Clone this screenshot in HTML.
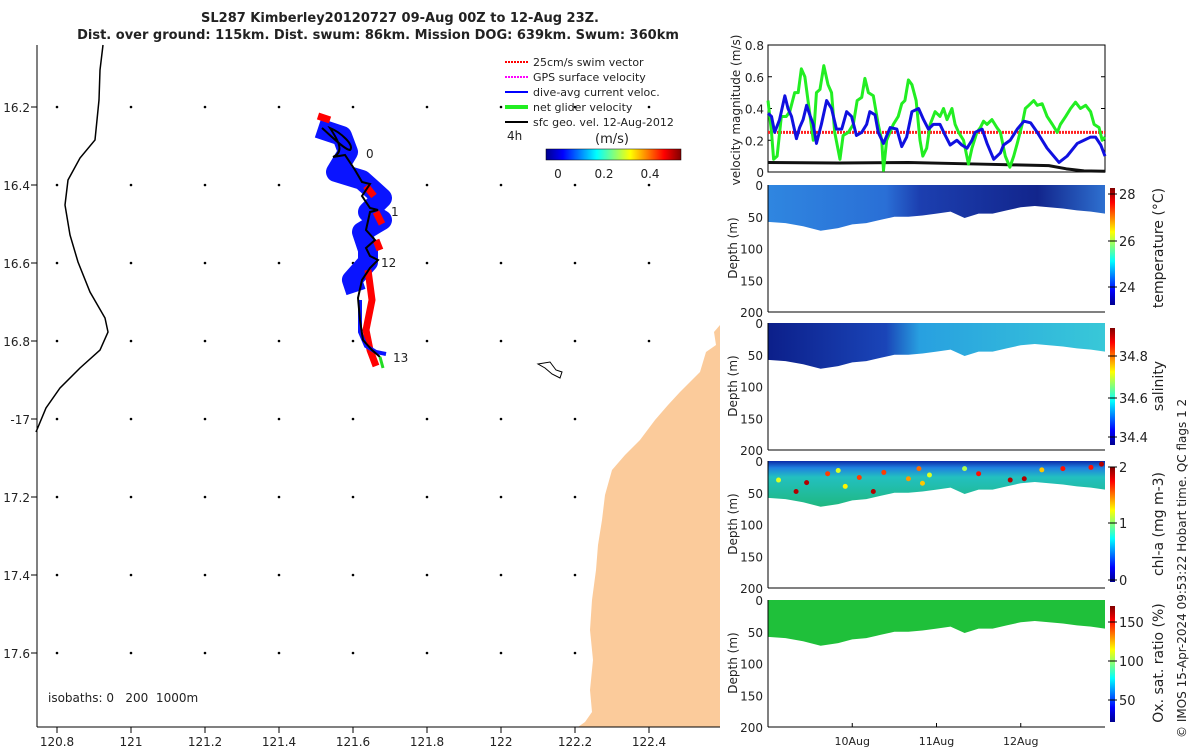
<!DOCTYPE html>
<html><head><meta charset="utf-8"><style>
body{margin:0;background:#fff;}
svg{display:block;font-family:"DejaVu Sans","Liberation Sans",sans-serif;}
text{fill:#222;}
</style></head><body>
<svg id="c" width="1200" height="750" viewBox="0 0 1200 750" xmlns="http://www.w3.org/2000/svg" font-size="12">
<defs>
<linearGradient id="jetH" x1="0" x2="1" y1="0" y2="0">
<stop offset="0" stop-color="#00008f"/><stop offset="0.125" stop-color="#0000ff"/><stop offset="0.375" stop-color="#00ffff"/><stop offset="0.625" stop-color="#ffff00"/><stop offset="0.875" stop-color="#ff0000"/><stop offset="1" stop-color="#800000"/></linearGradient>
<linearGradient id="jetV" x1="0" x2="0" y1="1" y2="0">
<stop offset="0" stop-color="#00008f"/><stop offset="0.125" stop-color="#0000ff"/><stop offset="0.375" stop-color="#00ffff"/><stop offset="0.625" stop-color="#ffff00"/><stop offset="0.875" stop-color="#ff0000"/><stop offset="1" stop-color="#800000"/></linearGradient>
<linearGradient id="tempG" x1="0" x2="1"><stop offset="0" stop-color="#2f86e0"/><stop offset="0.35" stop-color="#2a6fd6"/><stop offset="0.45" stop-color="#1c3fb0"/><stop offset="0.8" stop-color="#12258c"/><stop offset="1" stop-color="#2e70d0"/></linearGradient>
<linearGradient id="salG" x1="0" x2="1"><stop offset="0" stop-color="#0c1f8a"/><stop offset="0.35" stop-color="#1a45b8"/><stop offset="0.45" stop-color="#28a0e0"/><stop offset="1" stop-color="#38c8d8"/></linearGradient>
<linearGradient id="chlG" x1="0" x2="0" y1="0" y2="1"><stop offset="0" stop-color="#0a2aa8"/><stop offset="0.15" stop-color="#1f80e0"/><stop offset="0.35" stop-color="#22c0c0"/><stop offset="1" stop-color="#20b880"/></linearGradient>
</defs>

<g>
<text x="400" y="22" text-anchor="middle" font-weight="bold" style="font-size:13px">SL287 Kimberley20120727 09-Aug 00Z to 12-Aug 23Z.</text>
<text x="378" y="39" text-anchor="middle" font-weight="bold" style="font-size:13px">Dist. over ground: 115km. Dist. swum: 86km. Mission DOG: 639km. Swum: 360km</text>
</g>

<g id="map">
<path fill="#fbcb9b" d="M720,325 L714,332 L716,345 L706,352 L700,372 L690,382 L680,392 L668,405 L655,420 L640,440 L625,455 L612,470 L605,495 L602,520 L598,545 L596,570 L592,600 L590,630 L593,660 L590,690 L592,712 L585,722 L578,727 L720,727 Z"/>
<path fill="none" stroke="#000" stroke-width="1" d="M538,364 L550,362 L556,370 L562,372 L560,378 L552,374 L545,368 Z"/>
<path fill="none" stroke="#000" stroke-width="1.5" d="M103,45 L100,70 L99,100 L95,140 L80,158 L68,180 L65,205 L70,235 L78,262 L90,292 L105,318 L108,332 L100,350 L80,368 L60,388 L46,408 L36,432"/>
<g id="grid-dots"></g>
<g id="track">
<path fill="none" stroke="#0a14ff" stroke-width="20" stroke-linejoin="round" d="M318,128 L342,136 L348,152 L336,172 L362,180 L382,198 L368,212 L382,220 L362,232 L368,250 L368,262 L352,280 L356,292"/>
<path fill="none" stroke="#ff0000" stroke-width="7" stroke-linejoin="round" d="M318,116 L330,120 M366,186 L374,196 M376,212 L382,224 M376,240 L380,250 M368,270 L372,300 L366,330 L370,350 L376,366"/>
<path fill="none" stroke="#0a14ff" stroke-width="4" d="M360,300 L360,332 L366,346 L376,352 L386,354"/>
<path fill="none" stroke="#000" stroke-width="2" d="M322,128 C330,135 345,150 350,150 C355,145 340,132 330,128 C338,140 345,152 333,157 L345,155 L355,170 L362,182 L370,184 L362,196 L370,208 L378,210 L370,212 L366,230 L375,240 L366,248 L370,256 L378,260 L370,268 L362,280 L358,298 L360,320 L363,340 L372,350 L380,357"/>
<line x1="380" y1="357" x2="383" y2="368" stroke="#22dd22" stroke-width="3"/>
</g>
<text x="366" y="158">0</text>
<text x="391" y="216">1</text>
<text x="381" y="267">12</text>
<text x="393" y="362">13</text>
<text x="507" y="140">4h</text>
<g>
<line x1="505" y1="62" x2="528" y2="62" stroke="#ff0000" stroke-width="2" stroke-dasharray="2 1"/><text x="533" y="66" style="font-size:11px">25cm/s swim vector</text>
<line x1="505" y1="77" x2="528" y2="77" stroke="#ff00ff" stroke-width="2" stroke-dasharray="2 1"/><text x="533" y="81" style="font-size:11px">GPS surface velocity</text>
<line x1="505" y1="92" x2="528" y2="92" stroke="#0000ff" stroke-width="2"/><text x="533" y="96" style="font-size:11px">dive-avg current veloc.</text>
<line x1="505" y1="107" x2="528" y2="107" stroke="#22ee22" stroke-width="4"/><text x="533" y="111" style="font-size:11px">net glider velocity</text>
<line x1="505" y1="122" x2="528" y2="122" stroke="#000" stroke-width="2"/><text x="533" y="126" style="font-size:11px">sfc geo. vel. 12-Aug-2012</text>
</g>
<g>
<text x="612" y="143" text-anchor="middle" style="font-size:13px">(m/s)</text>
<rect x="546" y="149" width="135" height="11" fill="url(#jetH)" stroke="#000" stroke-width="0.5"/>
<text x="558" y="178" text-anchor="middle">0</text><text x="604" y="178" text-anchor="middle">0.2</text><text x="650" y="178" text-anchor="middle">0.4</text>
</g>
<text x="48" y="702" xml:space="preserve">isobaths: 0   200  1000m</text>
<line x1="37" y1="45" x2="37" y2="727" stroke="#000"/>
<line x1="37" y1="727" x2="720" y2="727" stroke="#000"/>
<g id="mapTicks"></g>
</g>

<g id="velPanel"></g>
<g id="sections"></g>
<text transform="translate(1186,738) rotate(-90)">© IMOS 15-Apr-2024 09:53:22 Hobart time. QC flags 1  2</text>
</svg>
<script>
const NS='http://www.w3.org/2000/svg';
const lonTicks=[120.8,121,121.2,121.4,121.6,121.8,122,122.2,122.4];
const latTicks=[16.2,16.4,16.6,16.8,17,17.2,17.4,17.6];
const latLabels=['16.2','16.4','16.6','16.8','-17','17.2','17.4','17.6'];
const lonLabels=['120.8','121','121.2','121.4','121.6','121.8','122','122.2','122.4'];
const hoursGreen=[0,1,1.6,2.6,3.8,5.2,6.2,7.6,8.6,9.5,10.5,11.4,12.9,13.8,14.8,15.9,17.1,18.1,19,20.5,21.4,22.9,24.3,25.4,26.7,27.6,28.6,30,31.4,32.4,32.9,33.8,35.7,37.1,38.1,39,40,41,42.2,43.3,44.1,45.2,46.2,47.6,49,50,51,52.4,53.3,54.3,55.7,57.1,58.1,59.5,60.5,61.4,62.4,63.8,65.2,66.2,67.6,68.9,70,71,72.4,73.3,74.3,75.7,76.7,78.1,79.5,81,82.4,83.3,84.8,86.2,87.6,89,90.5,91.9,92.9,94.3,95.2,96];
const netVel=[0.45,0.25,0.08,0.1,0.35,0.35,0.38,0.5,0.5,0.65,0.6,0.45,0.2,0.5,0.52,0.67,0.55,0.5,0.25,0.08,0.23,0.25,0.3,0.45,0.47,0.59,0.5,0.48,0.3,0.2,0.01,0.2,0.3,0.35,0.43,0.45,0.58,0.55,0.45,0.2,0.1,0.15,0.3,0.38,0.35,0.4,0.33,0.4,0.3,0.25,0.2,0.05,0.15,0.25,0.28,0.32,0.3,0.33,0.28,0.25,0.1,0.03,0.1,0.18,0.3,0.4,0.42,0.45,0.42,0.43,0.35,0.3,0.25,0.3,0.35,0.4,0.44,0.4,0.42,0.38,0.3,0.28,0.2,0.22];
const hoursBlue=[0,1,1.9,3.3,4.8,5.7,6.7,8.1,9,10,11,11.9,12.9,13.8,15.2,16.7,18.1,19.5,21,22.4,23.8,25.2,26.7,28.1,29,30.5,31.4,32.9,34.8,36.7,38.1,39.5,41,42.9,44.3,45.7,47.1,49,50.5,51.9,53.8,55.2,56.7,58.1,59,61,62.4,64.3,66.2,67.1,69,71,72.9,74.8,76.7,79.5,82.9,85.2,88.1,90,91.9,93.3,94.8,96];
const diveAvg=[0.37,0.35,0.25,0.33,0.48,0.4,0.35,0.21,0.28,0.33,0.42,0.36,0.3,0.18,0.3,0.45,0.4,0.27,0.27,0.38,0.35,0.23,0.25,0.3,0.38,0.36,0.25,0.18,0.28,0.27,0.16,0.22,0.38,0.4,0.33,0.27,0.3,0.3,0.23,0.17,0.2,0.17,0.15,0.2,0.25,0.27,0.18,0.08,0.12,0.17,0.2,0.27,0.32,0.31,0.25,0.15,0.06,0.1,0.18,0.2,0.22,0.22,0.17,0.1];
const hoursGeo=[0,20,40,60,70,80,85,90,96];
const geoVel=[0.06,0.057,0.06,0.05,0.045,0.04,0.02,0.007,0.005];
const swimSpeed=0.25;
const velTicks=[0,0.2,0.4,0.6,0.8];
const dayTicks=[24,48,72];
const dayLabels=['10Aug','11Aug','12Aug'];
const profHours=[0,5,10,15,20,24,28,32,36,40,44,48,52,56,60,64,68,72,76,80,84,88,92,96];
const profDepth=[58,60,65,72,68,62,60,55,50,50,48,45,42,52,45,45,40,35,33,35,37,40,42,45];
const depthTicks=[0,50,100,150,200];
const chlDotHours=[3,8,11,17,20,22,26,30,33,40,43,44,46,56,60,69,73,78,84,92,95];
const chlDotDepth=[30,48,34,20,15,40,26,48,18,28,12,35,22,12,20,30,28,14,12,10,5];
const chlDotVal=[1.2,2,2,1.7,1.2,1.3,1.7,2,1.7,1.5,1.6,1.4,1.2,1.1,1.8,2,2,1.4,1.8,1.8,2];

const lonX=l=>57+(l-120.8)*370;
const latY=l=>107+(l-16.2)*390;
const tX=h=>768+h*(1105-768)/96;
function el(tag,attrs,parent,txt){const e=document.createElementNS(NS,tag);for(const k in attrs)e.setAttribute(k,attrs[k]);if(txt!==undefined)e.textContent=txt;parent.appendChild(e);return e;}
function jet(v){const r=Math.max(0,Math.min(1,1.5-Math.abs(4*v-3))),g=Math.max(0,Math.min(1,1.5-Math.abs(4*v-2))),b=Math.max(0,Math.min(1,1.5-Math.abs(4*v-1)));return 'rgb('+Math.round(r*255)+','+Math.round(g*255)+','+Math.round(b*255)+')';}

const gd=document.getElementById('grid-dots');
lonTicks.forEach(lo=>latTicks.forEach(la=>{
 if(lonX(lo)>590&&latY(la)>400)return;
 const d=el('circle',{cx:lonX(lo),cy:latY(la),r:1.3,fill:'#000'},gd);
 
 
}));
const mt=document.getElementById('mapTicks');
lonTicks.forEach((lo,i)=>{
 el('line',{x1:lonX(lo),x2:lonX(lo),y1:727,y2:733,stroke:'#000'},mt);
 const t=el('text',{x:lonX(lo),y:746,'text-anchor':'middle'},mt,lonLabels[i]);
 
 
});
latTicks.forEach((la,i)=>{
 el('line',{x1:31,x2:37,y1:latY(la),y2:latY(la),stroke:'#000'},mt);
 const t=el('text',{x:30,y:latY(la)+5,'text-anchor':'end'},mt,latLabels[i]);
 
 
});

const vp=document.getElementById('velPanel');
const vY=v=>172-v*(172-45)/0.8;
el('rect',{x:768,y:45,width:337,height:127,fill:'none',stroke:'#000'},vp);
velTicks.forEach(v=>{
 el('line',{x1:768,x2:772,y1:vY(v),y2:vY(v),stroke:'#000'},vp);
 el('line',{x1:1101,x2:1105,y1:vY(v),y2:vY(v),stroke:'#000'},vp);
 el('text',{x:764,y:vY(v)+5,'text-anchor':'end'},vp,String(v));
});
const yl=el('text',{transform:'translate(740,110) rotate(-90)','text-anchor':'middle'},vp,'velocity magnitude (m/s)');


const sw=el('line',{x1:tX(0),x2:tX(96),y1:vY(swimSpeed),y2:vY(swimSpeed),stroke:'#ff2020','stroke-width':3,'stroke-dasharray':'2 1'},vp);


function line(hs,vs,col,w,name){
 const p=el('polyline',{points:hs.map((h,i)=>tX(h)+','+vY(vs[i])).join(' '),fill:'none',stroke:col,'stroke-width':w,'stroke-linejoin':'round'},vp);
 
 
}
line(hoursGeo,geoVel,'#111',3,'sfc-geo-velocity-line');
line(hoursGreen,netVel,'#22ee22',3,'net-glider-velocity-line');
line(hoursBlue,diveAvg,'#1010e0',3,'dive-avg-current-line');

const secs=[
 {y0:185,fill:'url(#tempG)',label:'temperature (°C)',name:'temperature',ticks:[['24',287],['26',241],['28',194]],cbTop:188,cbBot:305},
 {y0:323,fill:'url(#salG)',label:'salinity',name:'salinity',ticks:[['34.4',437],['34.6',398],['34.8',356]],cbTop:328,cbBot:445},
 {y0:461,fill:'url(#chlG)',label:'chl-a (mg m-3)',name:'chlorophyll',ticks:[['0',580],['1',523],['2',467]],cbTop:467,cbBot:582},
 {y0:600,fill:'#1fc03a',label:'Ox. sat. ratio (%)',name:'oxygen',ticks:[['50',700],['100',661],['150',622]],cbTop:606,cbBot:722}
];
const sg=document.getElementById('sections');
secs.forEach((s,idx)=>{
 const g=el('g',{},sg);
 
 
 const dY=d=>s.y0+d*127/200;
 let pts=[tX(0)+','+dY(0),tX(96)+','+dY(0)];
 for(let i=profHours.length-1;i>=0;i--)pts.push(tX(profHours[i])+','+dY(profDepth[i]));
 const pg=el('polygon',{points:pts.join(' '),fill:s.fill},g);
 
 
 if(idx===2){
  chlDotHours.forEach((h,i)=>{
   const c=el('circle',{cx:tX(h),cy:dY(chlDotDepth[i]),r:2.5,fill:jet(chlDotVal[i]/2*0.9+0.05)},g);
   
   
  });
 }
 el('line',{x1:768,x2:768,y1:s.y0,y2:s.y0+127,stroke:'#000'},g);
 el('line',{x1:768,x2:1105,y1:s.y0+127,y2:s.y0+127,stroke:'#000'},g);
 depthTicks.forEach(d=>{el('text',{x:763,y:dY(d)+5,'text-anchor':'end'},g,String(d));});
 el('text',{transform:'translate(737,'+(s.y0+63)+') rotate(-90)','text-anchor':'middle'},g,'Depth (m)');
 el('rect',{x:1110,y:s.cbTop,width:5,height:s.cbBot-s.cbTop,fill:'url(#jetV)'},g);
 s.ticks.forEach(t=>{el('line',{x1:1108,x2:1117,y1:t[1],y2:t[1],stroke:'#000'},g);el('text',{x:1119,y:t[1]+5,style:'font-size:13px'},g,t[0]);});
 const lt=el('text',{transform:'translate(1163,'+(s.y0+63)+') rotate(-90)','text-anchor':'middle',style:'font-size:14px'},g,s.label);
 
 
 if(idx===3){dayTicks.forEach((h,i)=>{el('line',{x1:tX(h),x2:tX(h),y1:723,y2:727,stroke:'#000'},g);el('text',{x:tX(h),y:745,'text-anchor':'middle',style:'font-size:11px'},g,dayLabels[i]);});}
});
</script>
</body></html>
